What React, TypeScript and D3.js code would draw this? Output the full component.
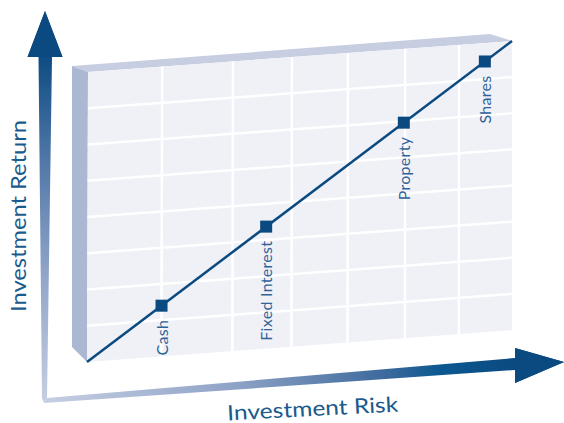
import React from "react";
import * as d3 from "d3";

// ---- data ----
const ASSETS = ["Cash", "Fixed Interest", "Property", "Shares"];
const RISK = [17.5, 42.1, 74.5, 93.6];
const RETURN = [17.5, 42.1, 74.5, 93.6];
const GRID_RISK = [17.5, 34.2, 48.1, 61.3, 74.8, 87.5];
const GRID_RETURN = [12.5, 25, 37.5, 50, 62.5, 75, 87.5];
const TREND = [
  [0, 0],
  [100, 100],
];
const X_TITLE = "Investment Risk";
const Y_TITLE = "Investment Return";

// ---- layout ----
const W = 564;
const H = 423;
const TL = [88, 72];
const TR = [512, 41];
const BL = [87, 362];
const BR = [512, 330];

const NAVY = "#0a4a80";
const TEXT = "#1a5a8c";
const LABEL = "#2f6399";

const uScale = d3.scaleLinear().domain([0, 100]).range([0, 1]);
const vScale = d3.scaleLinear().domain([0, 100]).range([0, 1]);

function pos(risk: number, ret: number): [number, number] {
  const u = uScale(risk);
  const v = vScale(ret);
  const bx = d3.interpolateNumber(BL[0], BR[0])(u);
  const by = d3.interpolateNumber(BL[1], BR[1])(u);
  const tx = d3.interpolateNumber(TL[0], TR[0])(u);
  const ty = d3.interpolateNumber(TL[1], TR[1])(u);
  return [bx + (tx - bx) * v, by + (ty - by) * v];
}

export default function App() {
  const line = d3
    .line<number[]>()
    .x((d) => pos(d[0], d[1])[0])
    .y((d) => pos(d[0], d[1])[1]);

  const toPts = (a: number[][]) => a.map((p) => p.join(",")).join(" ");
  const front = toPts([TL, TR, BR, BL]);
  const top = toPts([[72, 66], [490, 34], TR, TL]);
  const side = toPts([[72, 66], TL, BL, [72, 347]]);

  const vArrow = [
    [45, 11],
    [62.5, 57],
    [52, 57],
    [47, 398],
    [44, 403],
    [42, 398],
    [38.5, 57],
    [27.5, 57],
  ];
  const hArrow = [
    [44, 403],
    [47, 398],
    [515, 358],
    [515, 348],
    [564, 362],
    [515, 383],
    [515, 370],
  ];

  const mk = 12;

  return (
    <svg
      width={W}
      height={H}
      style={{ position: "fixed", left: 0, top: 0, background: "#fff" }}
      fontFamily="Lato, 'Open Sans', sans-serif"
    >
      <defs>
        <linearGradient id="gv" gradientUnits="userSpaceOnUse" x1="45" y1="402" x2="45" y2="55">
          <stop offset="0" stopColor="#c6cfe2" />
          <stop offset="0.35" stopColor="#93a7ca" />
          <stop offset="0.7" stopColor="#4f77a8" />
          <stop offset="1" stopColor="#0d4b82" />
        </linearGradient>
        <linearGradient id="gh" gradientUnits="userSpaceOnUse" x1="44" y1="400" x2="516" y2="364">
          <stop offset="0" stopColor="#c6cfe2" />
          <stop offset="0.4" stopColor="#8fa3c7" />
          <stop offset="0.72" stopColor="#3e6a9d" />
          <stop offset="0.84" stopColor="#0b5890" />
          <stop offset="1" stopColor={NAVY} />
        </linearGradient>
      </defs>

      {/* panel */}
      <polygon points={top} fill="#c7cee1" />
      <polygon points={side} fill="#aab8d4" />
      <polygon points={front} fill="#eff1f6" />

      {/* grid */}
      <g stroke="#ffffff" strokeWidth={2.5}>
        {GRID_RISK.map((r, i) => {
          const a = pos(r, 0);
          const b = pos(r, 100);
          return <line key={"gx" + i} x1={a[0]} y1={a[1]} x2={b[0]} y2={b[1]} />;
        })}
        {GRID_RETURN.map((r, i) => {
          const a = pos(0, r);
          const b = pos(100, r);
          return <line key={"gy" + i} x1={a[0]} y1={a[1]} x2={b[0]} y2={b[1]} />;
        })}
      </g>

      {/* trend line */}
      <path d={line(TREND) || ""} fill="none" stroke={NAVY} strokeWidth={2.5} />

      {/* markers + labels */}
      {ASSETS.map((name, i) => {
        const [x, y] = pos(RISK[i], RETURN[i]);
        return (
          <g key={name}>
            <rect x={x - mk / 2} y={y - mk / 2} width={mk} height={mk} fill={NAVY} />
            <text
              transform={`translate(${x + 6},${y + 14}) rotate(-90)`}
              textAnchor="end"
              fontSize={16}
              letterSpacing={0.3}
              fill={LABEL}
            >
              {name}
            </text>
          </g>
        );
      })}

      {/* axes arrows */}
      <polygon points={toPts(hArrow)} fill="url(#gh)" />
      <polygon points={toPts(vArrow)} fill="url(#gv)" />
      <polygon points={toPts([[515, 348], [564, 362], [515, 383]])} fill={NAVY} />
      <polygon points={toPts([[45, 11], [62.5, 57], [27.5, 57]])} fill={NAVY} />

      {/* titles */}
      <text
        transform="translate(26,216) rotate(-90)"
        textAnchor="middle"
        fontSize={21}
        fill={TEXT}
        textLength={192}
        lengthAdjust="spacingAndGlyphs"
      >
        {Y_TITLE}
      </text>
      <text
        transform="translate(313,416) rotate(-3)"
        textAnchor="middle"
        fontSize={21}
        fill={TEXT}
        textLength={171}
        lengthAdjust="spacingAndGlyphs"
      >
        {X_TITLE}
      </text>
    </svg>
  );
}
